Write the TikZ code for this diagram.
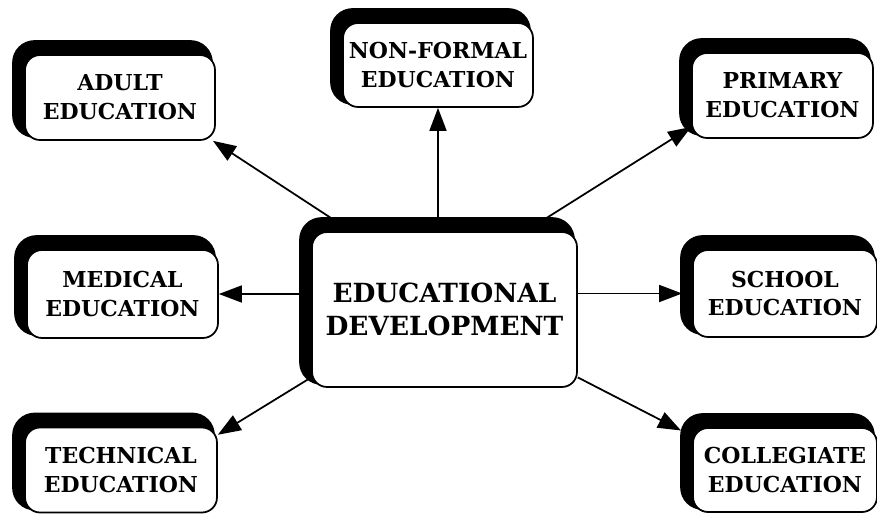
\documentclass[tikz,border=0pt]{standalone}
\usepackage{fontspec}
\setmainfont{DejaVu Serif}
\usetikzlibrary{arrows.meta,calc,backgrounds}
\tikzset{
  edubox/.style={
    rectangle, rounded corners=0.3cm,
    draw=black, line width=1pt, fill=white,
    align=center, inner sep=1pt,
    minimum width=3.8cm, minimum height=1.7cm,
    font=\fontsize{12.5}{16.5}\selectfont\bfseries},
  edumain/.style={
    edubox, minimum width=5.3cm, minimum height=3.1cm,
    font=\fontsize{15}{19}\selectfont\bfseries},
  edushadow/.style={fill=black, rounded corners=0.45cm},
  arr/.style={-{Triangle[length=0.46cm,width=0.34cm]},line width=1pt},
}

\begin{document}
\begin{tikzpicture}[x=0.02cm,y=-0.02cm]
\useasboundingbox (0,0) rectangle (877,514);

%% outer boxes
\node[edubox] (adult)      at (120,97.5)  {ADULT\\EDUCATION};
\node[edubox, minimum height=1.68cm] (nonformal) at (438,65) {NON-FORMAL\\EDUCATION};
\node[edubox, minimum width=3.62cm] (primary) at (782.5,95.5) {PRIMARY\\EDUCATION};
\node[edubox, minimum width=3.82cm, minimum height=1.76cm] (medical) at (122.5,294) {MEDICAL\\EDUCATION};
\node[edubox, minimum width=3.68cm, minimum height=1.74cm] (school) at (785,293.5) {SCHOOL\\EDUCATION};
\node[edubox, minimum width=3.84cm] (technical) at (121,470) {TECHNICAL\\EDUCATION};
\node[edubox, minimum width=3.68cm, minimum height=1.68cm] (collegiate) at (785,470) {COLLEGIATE\\EDUCATION};

%% centre
\node[edumain] (edu) at (444.5,309.5) {EDUCATIONAL\\DEVELOPMENT};

%% shadows at top left
\begin{scope}[on background layer]
\foreach \n in {adult,nonformal,primary,medical,school,technical,collegiate,edu}
  \fill[edushadow] ($(\n.north west)+(-12,-14)$) rectangle ($(\n.south east)+(-3,-3)$);
\end{scope}

%% arrows
\draw[arr] (edu.140) -- (adult.-25);
\draw[arr] (edu.north -| nonformal) -- (nonformal.south);
\draw[arr] (edu.44) -- (primary.199);
\draw[arr] (edu.west |- medical) -- (medical.east);
\draw[arr,shorten >=0.2cm] (edu.east |- school) -- (school.west);
\draw[arr] (edu.207) -- (technical.20);
\draw[arr,shorten >=0.25cm] (edu.-27) -- (collegiate.160);

\end{tikzpicture}
\end{document}
